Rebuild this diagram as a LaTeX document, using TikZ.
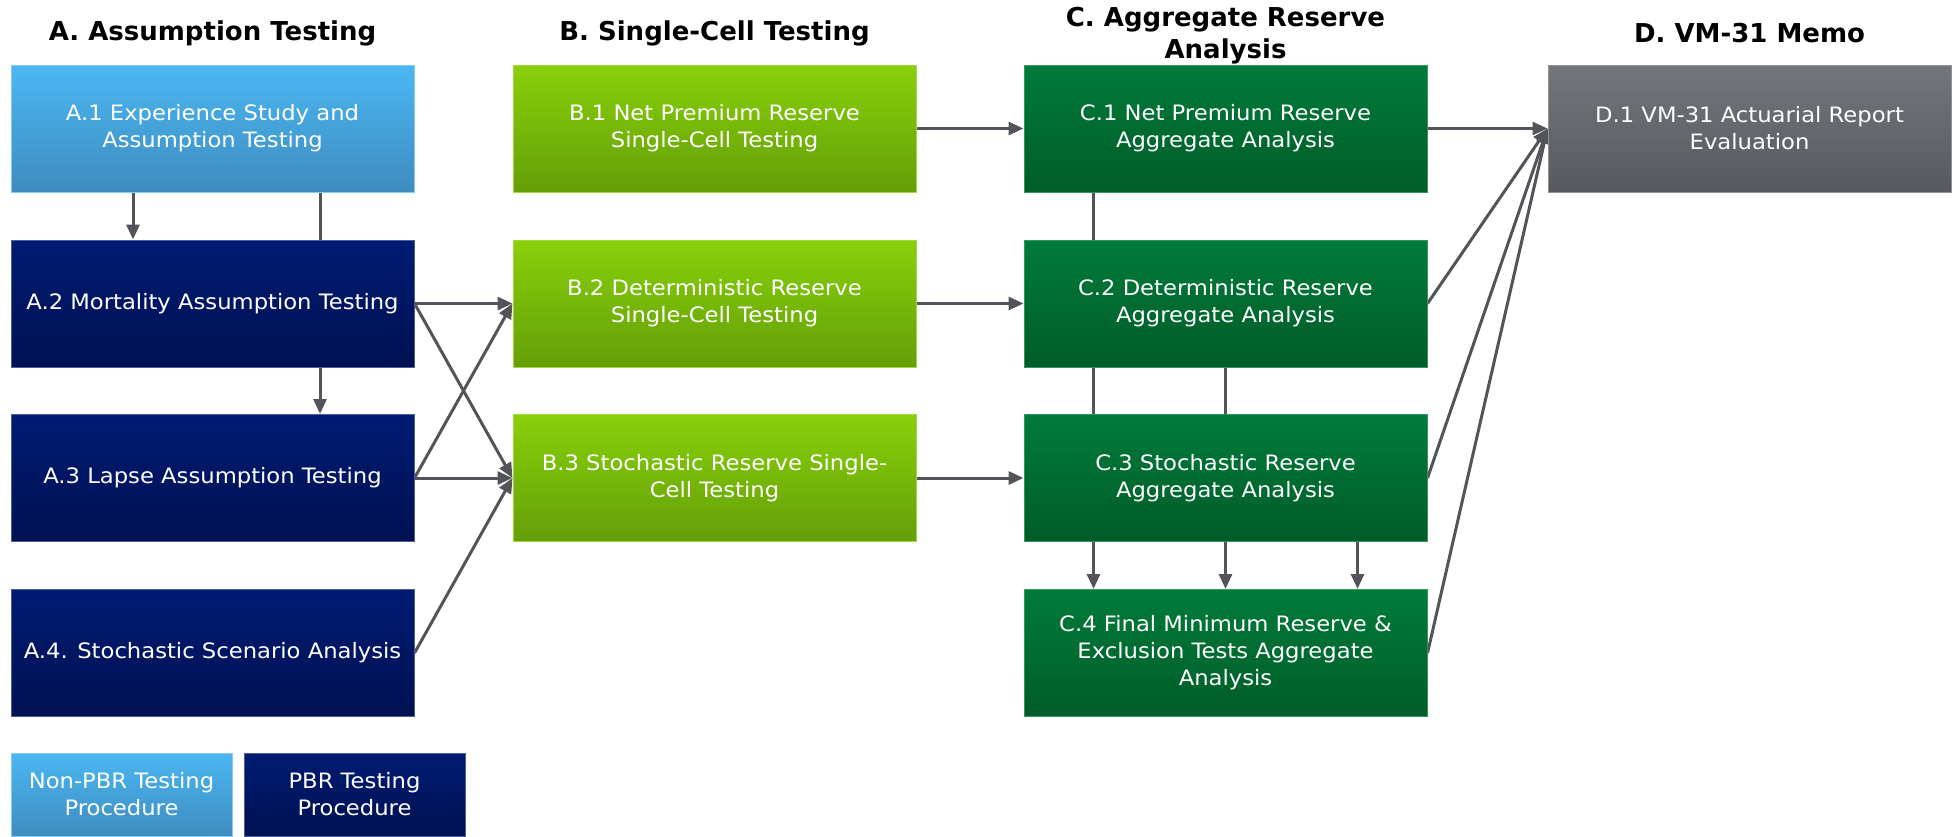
\documentclass[tikz,border=0pt]{standalone}
\usepackage{fontspec}
\setmainfont{DejaVu Sans}
\newfontfamily\boxfont{DejaVu Sans}[FakeStretch=1.07]
\usetikzlibrary{arrows.meta,backgrounds}

\definecolor{navytop}{RGB}{0,27,115}
\definecolor{navybot}{RGB}{0,17,82}
\definecolor{skytop}{RGB}{75,183,242}
\definecolor{skybot}{RGB}{62,140,192}
\definecolor{limetop}{RGB}{137,208,10}
\definecolor{limebot}{RGB}{100,158,8}
\definecolor{greentop}{RGB}{0,123,58}
\definecolor{greenbot}{RGB}{0,92,40}
\definecolor{greytop}{RGB}{115,118,123}
\definecolor{greybot}{RGB}{86,89,94}
\definecolor{linegrey}{RGB}{82,84,90}

\tikzset{
  box/.style={rectangle, minimum width=201.5pt, minimum height=63.5pt, inner sep=0pt,
    text=white, align=center, line width=0.5pt, font=\boxfont\fontsize{10.6}{13.5}\selectfont},
  nonpbr/.style={box, top color=skytop, bottom color=skybot, draw=skytop!70!white},
  pbr/.style={box, top color=navytop, bottom color=navybot, draw=navytop!70!white},
  single/.style={box, top color=limetop, bottom color=limebot, draw=limetop!80!white},
  aggr/.style={box, top color=greentop, bottom color=greenbot, draw=greentop!80!white},
  memo/.style={box, top color=greytop, bottom color=greybot, draw=greytop!80!white},
  legend/.style={minimum width=110.5pt, minimum height=41.5pt},
  head/.style={align=center, font=\bfseries\fontsize{13}{16}\selectfont},
  conn/.style={draw=linegrey, line width=1.5pt, ->},
}

\begin{document}
\begin{tikzpicture}[x=0.5pt, y=-0.5pt, >={Triangle[length=7.5pt,width=6.5pt]}]
  \useasboundingbox (0,0) rectangle (1957,836);

  % column headings
  \node[head] (ha) at (212.5,33) {A. Assumption Testing};
  \node[head] (hb) at (714.5,33) {B. Single-Cell Testing};
  \node[head] (hc) at (1225.5,36) {C. Aggregate Reserve\\Analysis};
  \node[head] (hd) at (1749.5,33) {D. VM-31 Memo};

  % A. assumption testing
  \node[nonpbr] (a1) at (212.5,128.5) {A.1 Experience Study and\\Assumption Testing};
  \node[pbr]    (a2) at (212.5,303.5) {A.2 Mortality Assumption Testing};
  \node[pbr]    (a3) at (212.5,478)   {A.3 Lapse Assumption Testing};
  \node[pbr]    (a4) at (212.5,653)   {A.4. Stochastic Scenario Analysis};

  % B. single-cell testing
  \node[single] (b1) at (714.5,128.5) {B.1 Net Premium Reserve\\Single-Cell Testing};
  \node[single] (b2) at (714.5,303.5) {B.2 Deterministic Reserve\\Single-Cell Testing};
  \node[single] (b3) at (714.5,478)   {B.3 Stochastic Reserve Single-\\Cell Testing};

  % C. aggregate reserve analysis
  \node[aggr] (c1) at (1225.5,128.5) {C.1 Net Premium Reserve\\Aggregate Analysis};
  \node[aggr] (c2) at (1225.5,303.5) {C.2 Deterministic Reserve\\Aggregate Analysis};
  \node[aggr] (c3) at (1225.5,478)   {C.3 Stochastic Reserve\\Aggregate Analysis};
  \node[aggr] (c4) at (1225.5,653)   {C.4 Final Minimum Reserve \&\\Exclusion Tests Aggregate\\Analysis};

  % D. memo
  \node[memo] (d1) at (1749.5,128.5) {D.1 VM-31 Actuarial Report\\Evaluation};

  % legend
  \node[nonpbr, legend] (lnon) at (121.5,794.5) {Non-PBR Testing\\Procedure};
  \node[pbr, legend]    (lpbr) at (354.5,794.5) {PBR Testing\\Procedure};

  % connectors (behind the boxes)
  \begin{scope}[on background layer]
    \draw[conn] ([xshift=-39.75pt]a1.south) -- ([xshift=-39.75pt]a2.north);
    \draw[conn] ([xshift=53.75pt]a1.south) -- ([xshift=53.75pt]a3.north);

    \draw[conn] (a2.east) -- (b2.west);
    \draw[conn] (a2.east) -- (b3.west);
    \draw[conn] (a3.east) -- (b2.west);
    \draw[conn] (a3.east) -- (b3.west);
    \draw[conn] (a4.east) -- (b3.west);

    \foreach \n in {1,2,3}
      \draw[conn] (b\n.east) -- (c\n.west);

    \draw[conn] ([xshift=-66pt]c1.south) -- ([xshift=-66pt]c4.north);
    \draw[conn] (c2.south) -- (c4.north);
    \draw[conn] ([xshift=66pt]c3.south) -- ([xshift=66pt]c4.north);

    \foreach \n in {1,2,3,4}
      \draw[conn] (c\n.east) -- (d1.west);
  \end{scope}
\end{tikzpicture}
\end{document}
